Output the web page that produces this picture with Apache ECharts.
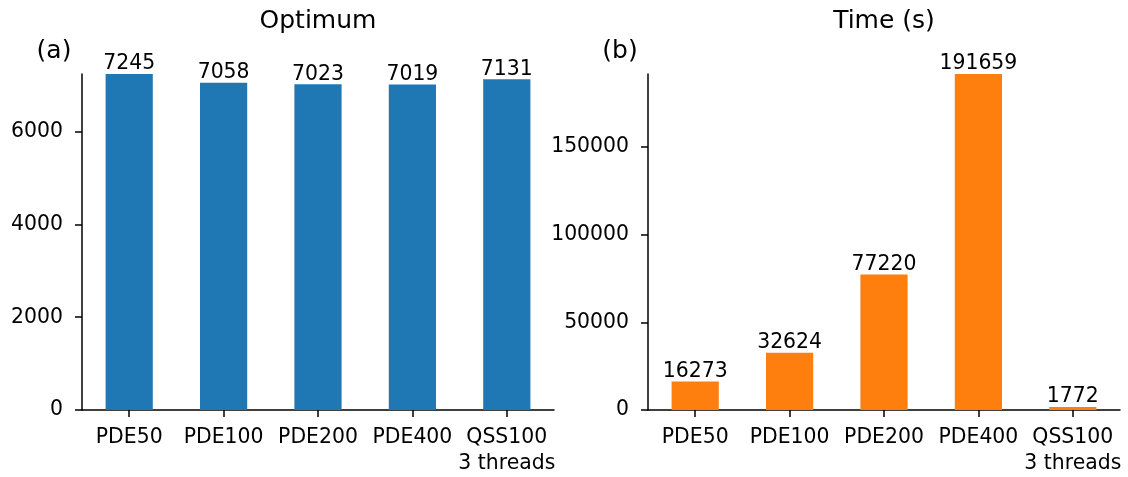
<!DOCTYPE html>
<html>
<head>
<meta charset="utf-8">
<script src="https://cdn.jsdelivr.net/npm/echarts@6/dist/echarts.min.js"></script>
<style>
html,body{margin:0;padding:0;background:#fff;}
#c{width:1128px;height:477px;}
</style>
</head>
<body>
<div id="c"></div>
<script>
var categories = ['PDE50', 'PDE100', 'PDE200', 'PDE400', 'QSS100\n3 threads'];
var optimumValues = [7245, 7058, 7023, 7019, 7131];
var timeValues = [16273, 32624, 77220, 191659, 1772];
var optimumTicks = [0, 2000, 4000, 6000];
var timeTicks = [0, 50000, 100000, 150000];
var titles = ['Optimum', 'Time (s)'];
var panelLabels = ['(a)', '(b)'];

var FONT = 'DejaVu Sans';
var chart = echarts.init(document.getElementById('c'), null, {renderer: 'canvas'});

function xAxisFor(gi) {
  return {
    type: 'category', gridIndex: gi, data: categories,
    axisLine: {show: true, lineStyle: {color: '#000', width: 1.5}},
    axisTick: {show: true, alignWithLabel: true, length: 7, lineStyle: {color: '#000', width: 1.5}},
    axisLabel: {color: '#000', fontFamily: FONT, fontSize: 20.4, margin: 15, lineHeight: 26, interval: 0},
    splitLine: {show: false}
  };
}
function yAxisFor(gi, maxV, ticks) {
  return {
    type: 'value', gridIndex: gi, min: 0, max: maxV,
    axisLine: {show: true, lineStyle: {color: '#000', width: 1.5}},
    axisTick: {show: true, length: 7, customValues: ticks, lineStyle: {color: '#000', width: 1.5}},
    axisLabel: {color: '#000', fontFamily: FONT, fontSize: 20.4, margin: 19, customValues: ticks,
      formatter: function (v) { return String(v); }},
    splitLine: {show: false}
  };
}
function barSeries(gi, data, color) {
  return {
    type: 'bar', xAxisIndex: gi, yAxisIndex: gi, data: data, barWidth: '50%',
    itemStyle: {color: color},
    label: {show: true, position: 'top', distance: 0, color: '#000', fontFamily: FONT, fontSize: 20.4},
    animation: false
  };
}

chart.setOption({
  animation: false,
  backgroundColor: '#fff',
  textStyle: {fontFamily: FONT},
  grid: [
    {left: 82, top: 74, width: 472, height: 336, containLabel: false, outerBoundsMode: 'none'},
    {left: 648, top: 74, width: 472, height: 336, containLabel: false, outerBoundsMode: 'none'}
  ],
  xAxis: [xAxisFor(0), xAxisFor(1)],
  yAxis: [
    yAxisFor(0, Math.max.apply(null, optimumValues), optimumTicks),
    yAxisFor(1, Math.max.apply(null, timeValues), timeTicks)
  ],
  series: [
    barSeries(0, optimumValues, '#1f77b4'),
    barSeries(1, timeValues, '#ff7f0e')
  ],
  graphic: [
    {type: 'text', x: 318, y: 21, style: {text: titles[0], fill: '#000', font: '25px "DejaVu Sans"', align: 'center', verticalAlign: 'middle'}},
    {type: 'text', x: 884, y: 21, style: {text: titles[1], fill: '#000', font: '25px "DejaVu Sans"', align: 'center', verticalAlign: 'middle'}},
    {type: 'text', x: 54, y: 51, style: {text: panelLabels[0], fill: '#000', font: '25px "DejaVu Sans"', align: 'center', verticalAlign: 'middle'}},
    {type: 'text', x: 620, y: 51, style: {text: panelLabels[1], fill: '#000', font: '25px "DejaVu Sans"', align: 'center', verticalAlign: 'middle'}}
  ]
});
</script>
</body>
</html>
